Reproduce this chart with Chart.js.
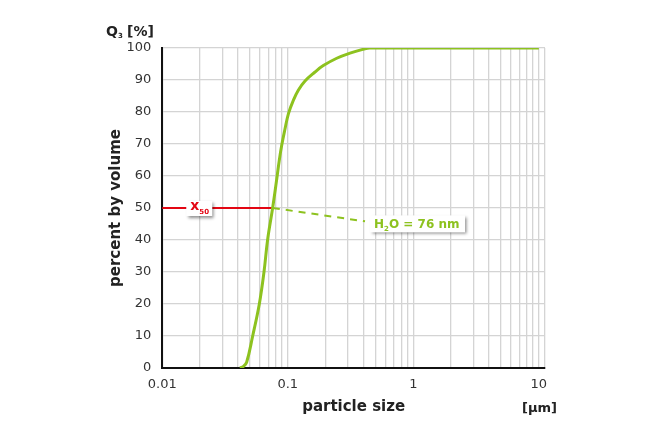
<!DOCTYPE html>
<html>
<head>
<meta charset="utf-8">
<script src="https://cdn.jsdelivr.net/npm/chart.js@4.4.0/dist/chart.umd.min.js"></script>
<style>
  body { margin: 0; background: #fff; }
  #wrap { width: 656px; height: 437px; }
</style>
</head>
<body>
<div id="wrap"><canvas id="psdChart"></canvas></div>
<script>
// particle size [µm] and cumulative volume Q3 [%]
const particleSize = [0.0416, 0.0443, 0.047, 0.0525, 0.0593, 0.0646, 0.069, 0.0757, 0.0818, 0.0856,
  0.0894, 0.0945, 0.1012, 0.1106, 0.1212, 0.1371, 0.1647, 0.1918, 0.2453, 0.313, 0.3996, 0.45, 1, 10];
const percentVolume = [0, 0.5, 1.8, 10, 20, 30, 40, 50, 59.3, 65,
  69.6, 74.3, 79.5, 83.6, 86.8, 89.7, 92.5, 94.5, 96.8, 98.4, 99.6, 100, 100, 100];

// axis setup
const xMin = 0.01;
const xMax = 11.2;
const xLabels = [0.01, 0.1, 1, 10];
const xGridValues = [];
[0.01, 0.1, 1].forEach(d => { for (let i = 1; i <= 9; i++) xGridValues.push(+(d * i).toPrecision(3)); });
xGridValues.push(10, xMax);

const x50 = 0.076;
const x50Text = 'H₂O = 76 nm';

const GREEN = '#8dc21f';
const RED = '#e30613';
const FONT = '"DejaVu Sans", Verdana, sans-serif';

// draws the x50 marker, the dashed leader and the two label boxes
const annotations = {
  id: 'annotations',
  beforeDatasetsDraw(chart) {
    const { ctx, scales: { x, y } } = chart;
    const py = Math.round(y.getPixelForValue(50));
    ctx.save();
    ctx.strokeStyle = RED;
    ctx.lineWidth = 2;
    ctx.beginPath();
    ctx.moveTo(chart.chartArea.left, py);
    ctx.lineTo(x.getPixelForValue(x50), py);
    ctx.stroke();
    ctx.restore();
  },
  afterDatasetsDraw(chart) {
    const { ctx, scales: { x, y } } = chart;
    ctx.save();

    // dashed leader
    const bx = x.getPixelForValue(0.452);
    const by = y.getPixelForValue(45.2);
    ctx.strokeStyle = GREEN;
    ctx.lineWidth = 2;
    ctx.setLineDash([7, 6]);
    ctx.beginPath();
    ctx.moveTo(x.getPixelForValue(x50), Math.round(y.getPixelForValue(50)));
    ctx.lineTo(bx - 5, by - 2);
    ctx.stroke();
    ctx.setLineDash([]);

    const box = (left, top, w, h) => {
      ctx.save();
      ctx.shadowColor = 'rgba(0,0,0,0.45)';
      ctx.shadowOffsetX = 2;
      ctx.shadowOffsetY = 2;
      ctx.shadowBlur = 3;
      ctx.fillStyle = '#fff';
      ctx.fillRect(left, top, w, h);
      ctx.restore();
    };

    // x50 box
    const rx = x.getPixelForValue(0.0197);
    const ry = Math.round(y.getPixelForValue(50));
    box(rx - 13, ry - 7, 26, 15);
    ctx.fillStyle = RED;
    ctx.textBaseline = 'alphabetic';
    ctx.font = 'bold 14px ' + FONT;
    ctx.fillText('x', rx - 9, ry + 2);
    ctx.font = 'bold 7px ' + FONT;
    ctx.fillText('50', rx, ry + 6);

    // H2O box
    box(bx, by - 8, 95, 17);
    ctx.fillStyle = GREEN;
    ctx.font = 'bold 12px ' + FONT;
    ctx.fillText('H', bx + 4, by + 5);
    let w = ctx.measureText('H').width;
    ctx.font = 'bold 7px ' + FONT;
    ctx.fillText('2', bx + 4 + w, by + 8);
    w += ctx.measureText('2').width;
    ctx.font = 'bold 12px ' + FONT;
    ctx.fillText(x50Text.slice(2), bx + 4 + w, by + 5);

    ctx.restore();
  },
  afterDraw(chart) {
    const { ctx } = chart;
    ctx.save();
    ctx.fillStyle = '#222';
    ctx.textBaseline = 'alphabetic';
    // Q3 [%]
    ctx.font = 'bold 14px ' + FONT;
    ctx.fillText('Q', 106, 36);
    ctx.font = 'bold 7px ' + FONT;
    ctx.fillText('3', 118, 38);
    ctx.font = 'bold 14px ' + FONT;
    ctx.fillText('[%]', 127, 36);
    // unit
    ctx.font = 'bold 13px ' + FONT;
    ctx.fillText('[µm]', 522, 412);
    ctx.restore();
  }
};

const ctx = document.getElementById('psdChart');
new Chart(ctx, {
  type: 'line',
  data: {
    datasets: [{
      data: particleSize.map((v, i) => ({ x: v, y: percentVolume[i] })),
      borderColor: GREEN,
      borderWidth: 3,
      pointRadius: 0,
      tension: 0.4,
      fill: false
    }]
  },
  options: {
    responsive: true,
    maintainAspectRatio: false,
    animation: false,
    layout: { padding: { top: 48, right: 111, bottom: 0, left: 0 } },
    plugins: { legend: { display: false }, tooltip: { enabled: false } },
    scales: {
      x: {
        type: 'logarithmic',
        min: xMin,
        max: xMax,
        afterBuildTicks: scale => { scale.ticks = xGridValues.map(v => ({ value: v })); },
        afterFit: scale => { scale.height = 69; },
        ticks: {
          autoSkip: false,
          maxRotation: 0,
          padding: 9,
          color: '#333',
          font: { family: FONT, size: 13 },
          callback: v => (xLabels.includes(+v.toPrecision(3)) ? String(+v.toPrecision(3)) : '')
        },
        grid: { color: '#d4d4d4', lineWidth: 1.3, drawTicks: false },
        border: { color: '#111', width: 2 },
        title: {
          display: true,
          text: 'particle size',
          color: '#222',
          font: { family: FONT, size: 15, weight: 'bold' },
          padding: { top: 0, bottom: 21 }
        }
      },
      y: {
        min: 0,
        max: 100,
        afterFit: scale => { scale.width = 162.3; },
        ticks: {
          stepSize: 10,
          padding: 11,
          color: '#333',
          font: { family: FONT, size: 13 }
        },
        grid: { color: '#d4d4d4', lineWidth: 1.3, drawTicks: false },
        border: { color: '#111', width: 2 },
        title: {
          display: true,
          text: 'percent by volume',
          color: '#222',
          font: { family: FONT, size: 15, weight: 'bold' },
          padding: { top: 107, bottom: 0 }
        }
      }
    }
  },
  plugins: [annotations]
});
</script>
</body>
</html>
